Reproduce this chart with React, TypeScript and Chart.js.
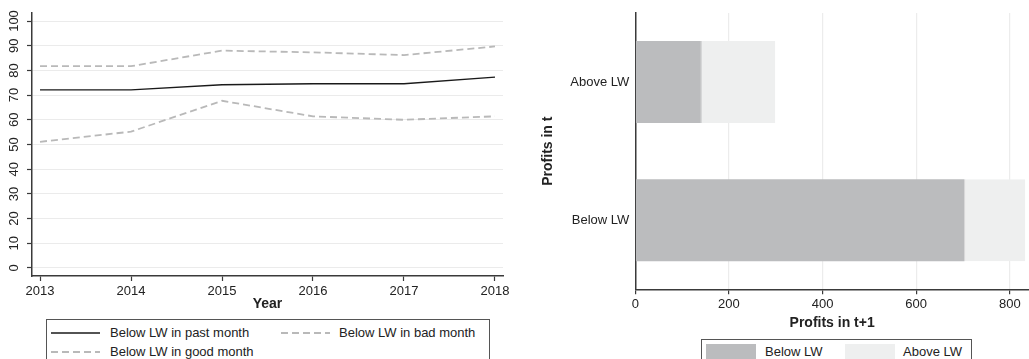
import React, { useEffect, useRef } from 'react';
import { Chart, registerables } from 'chart.js';

Chart.register(...registerables);

// ---- Data ----
const years = [2013, 2014, 2015, 2016, 2017, 2018];
const pastMonth = [72.1, 72.1, 74.2, 74.6, 74.6, 77.3];
const badMonth = [81.7, 81.7, 88.0, 87.3, 86.2, 89.7];
const goodMonth = [51.1, 55.2, 67.7, 61.4, 60.0, 61.4];
const shareTicks = [0, 10, 20, 30, 40, 50, 60, 70, 80, 90, 100];

const profitCats = ['Above LW', 'Below LW'];
const nextBelow = [140, 703];
const nextAbove = [159, 130];
const profitTicks = [0, 200, 400, 600, 800];

const FONT = "'Liberation Sans', Arial, Helvetica, sans-serif";
const TXT = '#222222';
const AXIS = '#3a3a3a';
const DARK = '#bbbcbe';
const LIGHT = '#eeefef';
const DASH = '#b9b9b9';

function LineChart() {
  const ref = useRef<HTMLCanvasElement | null>(null);
  useEffect(() => {
    if (!ref.current) return;
    const pts = (vals: number[]) => years.map((x, i) => ({ x, y: vals[i] }));
    const chart = new Chart(ref.current, {
      type: 'line',
      data: {
        datasets: [
          { label: 'Below LW in past month', data: pts(pastMonth), borderColor: '#1a1a1a', borderWidth: 1.3, pointRadius: 0, tension: 0 },
          { label: 'Below LW in bad month', data: pts(badMonth), borderColor: DASH, borderWidth: 1.8, borderDash: [7, 4], pointRadius: 0, tension: 0 },
          { label: 'Below LW in good month', data: pts(goodMonth), borderColor: DASH, borderWidth: 1.8, borderDash: [7, 4], pointRadius: 0, tension: 0 },
        ],
      },
      options: {
        responsive: false,
        animation: false,
        events: [],
        layout: { padding: { top: 13, right: 12, left: 0, bottom: 0 } },
        plugins: { legend: { display: false }, tooltip: { enabled: false } },
        scales: {
          x: {
            type: 'linear',
            min: 2012.912,
            max: 2018.088,
            afterBuildTicks: (s: any) => { s.ticks = years.map((v) => ({ value: v })); },
            afterFit: (s: any) => { s.height = 39; s.paddingLeft = 0; s.paddingRight = 0; },
            ticks: { callback: (v: any) => String(v), font: { family: FONT, size: 13 }, color: TXT, padding: 3, maxRotation: 0, autoSkip: false },
            grid: { drawOnChartArea: false, drawTicks: true, tickLength: 5, tickColor: AXIS, tickWidth: 1.2 },
            border: { color: AXIS, width: 1.5 },
            title: { display: true, text: 'Year', color: TXT, font: { family: FONT, size: 14, weight: 'bold' }, padding: { top: 0, bottom: 2 } },
          },
          y: {
            type: 'linear',
            min: -3.24,
            max: 103.24,
            afterBuildTicks: (s: any) => { s.ticks = shareTicks.map((v) => ({ value: v })); },
            afterFit: (s: any) => { s.width = 32; s.paddingTop = 0; s.paddingBottom = 0; },
            ticks: { minRotation: 90, maxRotation: 90, crossAlign: 'center', padding: 1.7, font: { family: FONT, size: 13 }, color: TXT, autoSkip: false },
            grid: { color: '#ebebeb', lineWidth: 1, tickLength: 5, tickColor: AXIS, tickWidth: 1.2 },
            border: { color: AXIS, width: 1.5 },
          },
        },
      } as any,
    });
    return () => chart.destroy();
  }, []);
  return <canvas ref={ref} width={515} height={315} style={{ position: 'absolute', left: 0, top: 0, width: 515, height: 315 }} />;
}

function BarChart() {
  const ref = useRef<HTMLCanvasElement | null>(null);
  useEffect(() => {
    if (!ref.current) return;
    const chart = new Chart(ref.current, {
      type: 'bar',
      data: {
        labels: profitCats,
        datasets: [
          { label: 'Below LW', data: nextBelow, backgroundColor: DARK, borderWidth: 0, categoryPercentage: 1, barPercentage: 0.594 },
          { label: 'Above LW', data: nextAbove, backgroundColor: LIGHT, borderColor: '#c9cacb', borderWidth: { left: 1, right: 0, top: 0, bottom: 0 }, borderSkipped: false, categoryPercentage: 1, barPercentage: 0.594 },
        ],
      },
      options: {
        indexAxis: 'y',
        responsive: false,
        animation: false,
        events: [],
        layout: { padding: { top: 13, right: 0, left: 0, bottom: 0 } },
        plugins: { legend: { display: false }, tooltip: { enabled: false } },
        scales: {
          x: {
            type: 'linear',
            stacked: true,
            min: 0,
            max: 841,
            afterBuildTicks: (s: any) => { s.ticks = profitTicks.map((v) => ({ value: v })); },
            afterFit: (s: any) => { s.height = 45.7; s.paddingLeft = 0; s.paddingRight = 0; },
            ticks: { font: { family: FONT, size: 13 }, color: TXT, padding: 2, maxRotation: 0, autoSkip: false },
            grid: { color: (c: any) => (c.tick && c.tick.value === 0 ? 'rgba(0,0,0,0)' : '#ececec'), lineWidth: 1.2, tickLength: 5, tickColor: AXIS, tickWidth: 1.2 },
            border: { color: AXIS, width: 1.5 },
            title: { display: true, text: 'Profits in t+1', color: TXT, font: { family: FONT, size: 14, weight: 'bold' }, padding: { top: 0, bottom: 3.5 } },
          },
          y: {
            type: 'category',
            stacked: true,
            afterFit: (s: any) => { s.width = 120.3; s.paddingTop = 0; s.paddingBottom = 0; },
            ticks: { font: { family: FONT, size: 13 }, color: TXT, padding: 6 },
            grid: { display: false, drawTicks: false, tickLength: 0 },
            border: { display: true, color: AXIS, width: 1.5 },
            title: { display: true, text: 'Profits in t', color: TXT, font: { family: FONT, size: 14, weight: 'bold' }, padding: { top: 24.6, bottom: 0 } },
          },
        },
      } as any,
    });
    return () => chart.destroy();
  }, []);
  return <canvas ref={ref} width={514} height={335} style={{ position: 'absolute', left: 515, top: 0, width: 514, height: 335 }} />;
}

const txtStyle = (left: number, cy: number): React.CSSProperties => ({
  position: 'absolute', left, top: cy - 7.5, height: 15, lineHeight: '15px', fontSize: 13, fontFamily: FONT, color: TXT, whiteSpace: 'nowrap',
});

function LineSample({ left, cy, dashed }: { left: number; cy: number; dashed: boolean }) {
  return (
    <svg width={49} height={6} style={{ position: 'absolute', left, top: cy - 3 }}>
      <line x1={0} y1={3} x2={49} y2={3} stroke={dashed ? DASH : '#1a1a1a'} strokeWidth={dashed ? 1.8 : 1.3} strokeDasharray={dashed ? '7 4' : undefined} />
    </svg>
  );
}

export default function App() {
  return (
    <div style={{ position: 'fixed', left: 0, top: 0, width: 1029, height: 359, overflow: 'hidden', background: '#ffffff' }}>
      <LineChart />
      <BarChart />
      {/* left legend */}
      <div style={{ position: 'absolute', left: 46, top: 319, width: 444, height: 60, border: '1px solid #555', boxSizing: 'border-box' }} />
      <LineSample left={51} cy={332.7} dashed={false} />
      <span style={txtStyle(110, 332.5)}>Below LW in past month</span>
      <LineSample left={281} cy={332.7} dashed={true} />
      <span style={txtStyle(339, 332.5)}>Below LW in bad month</span>
      <LineSample left={51} cy={352} dashed={true} />
      <span style={txtStyle(110, 351.7)}>Below LW in good month</span>
      {/* right legend */}
      <div style={{ position: 'absolute', left: 701, top: 338.5, width: 271, height: 60, border: '1px solid #555', boxSizing: 'border-box' }} />
      <div style={{ position: 'absolute', left: 706, top: 343.5, width: 50, height: 16, background: DARK }} />
      <span style={txtStyle(765, 351)}>Below LW</span>
      <div style={{ position: 'absolute', left: 845, top: 343.5, width: 50, height: 16, background: LIGHT }} />
      <span style={txtStyle(903, 351)}>Above LW</span>
    </div>
  );
}
